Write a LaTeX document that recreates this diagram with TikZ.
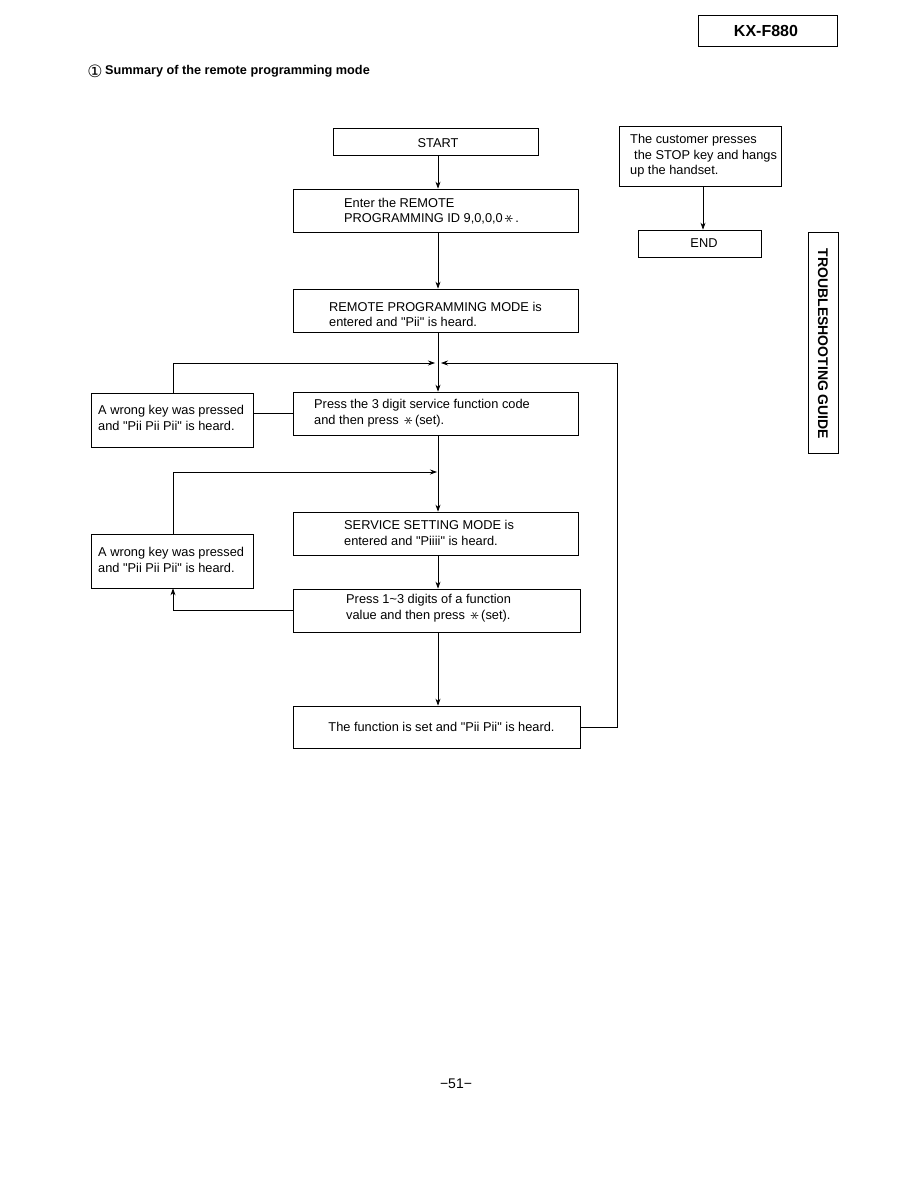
\documentclass[tikz,border=0pt]{standalone}
\usepackage{fontspec}
\setmainfont{Liberation Sans}
\newfontfamily\symfont{DejaVu Sans}
\usetikzlibrary{arrows.meta,calc}
\newcommand{\kstar}{\,\raisebox{-0.15ex}{\rotatebox[origin=c]{90}{\scalebox{1.5}{$\ast$}}}\,}
\newcommand{\qd}{\textquotedbl}
\begin{document}
\begin{tikzpicture}[x=1pt,y=-1pt,
  box/.style={draw, line width=0.7pt, rectangle, inner sep=0pt},
  txt/.style={font=\fontsize{12.8}{15.5}\selectfont, align=left, inner sep=0pt},
  arr/.style={-{Stealth[length=7pt,width=5pt]}, line width=0.7pt},
  ln/.style={line width=0.7pt}]
\useasboundingbox (0,0) rectangle (918,1188);

% header
\node[box, minimum width=139, minimum height=31] (kx) at (767.5,30.5) {};
\node[font=\fontsize{16}{18}\selectfont\bfseries, inner sep=0pt] (kxt) at (766,31) {KX-F880};
\node[font=\fontsize{17}{19}\selectfont\symfont, inner sep=0pt] (circ) at (95,71) {①};
\node[font=\fontsize{12.7}{15}\selectfont\bfseries, inner sep=0pt, anchor=west] (title) at (105,71) {Summary of the remote programming mode};

% boxes
\node[box, minimum width=205, minimum height=27] (start) at (435.5,141.5) {};
\node[box, minimum width=285, minimum height=43] (enter) at (435.5,210.5) {};
\node[box, minimum width=285, minimum height=43] (remote) at (435.5,310.5) {};
\node[box, minimum width=162, minimum height=54] (wrong1) at (172,420) {};
\node[box, minimum width=285, minimum height=43] (press) at (435.5,413.5) {};
\node[box, minimum width=285, minimum height=43] (service) at (435.5,533.5) {};
\node[box, minimum width=162, minimum height=54] (wrong2) at (172,561) {};
\node[box, minimum width=287, minimum height=43] (press2) at (436.5,610.5) {};
\node[box, minimum width=287, minimum height=42] (func) at (436.5,727) {};
\node[box, minimum width=162, minimum height=60] (cust) at (700,156) {};
\node[box, minimum width=123, minimum height=27] (end) at (699.5,243.5) {};
\node[box, minimum width=30, minimum height=221] (tsg) at (823,342.5) {};

% texts
\node[txt] (startt) at (438,143) {START};
\node[txt, anchor=west] (entert) at (344,211) {Enter the REMOTE\\PROGRAMMING ID 9,0,0,0\kstar.};
\node[txt, anchor=west] (remotet) at (329,314.5) {REMOTE PROGRAMMING MODE is\\entered and \qd Pii\qd{} is heard.};
\node[txt, anchor=west] (wrong1t) at (98,418) {A wrong key was pressed\\and \qd Pii Pii Pii\qd{} is heard.};
\node[txt, anchor=west] (presst) at (314,413) {Press the 3 digit service function code\\and then press \kstar (set).};
\node[txt, anchor=west] (servicet) at (344,533) {SERVICE SETTING MODE is\\entered and \qd Piiii\qd{} is heard.};
\node[txt, anchor=west] (wrong2t) at (98,560) {A wrong key was pressed\\and \qd Pii Pii Pii\qd{} is heard.};
\node[txt, anchor=west] (press2t) at (346,608) {Press 1\textasciitilde3 digits of a function\\value and then press \kstar (set).};
\node[txt] (funct) at (441.5,727) {The function is set and \qd Pii Pii\qd{} is heard.};
\node[txt, anchor=west] (custt) at (630,156) {The customer presses\\\hspace{4pt}the STOP key and hangs\\up the handset.};
\node[txt] (endt) at (704,243.5) {END};
\node[font=\fontsize{14}{16}\selectfont\bfseries, inner sep=0pt, rotate=-90] (tsgt) at (823,344) {TROUBLESHOOTING GUIDE};
\node[font=\fontsize{14}{16}\selectfont, inner sep=0pt] (page) at (456,1084) {−51−};

% helper coordinates
\coordinate (spine) at (438,0);
\coordinate (lx) at (173,0);
\coordinate (rx) at (617,0);
\coordinate (cx) at (703,0);
\coordinate (j1) at (438,363);
\coordinate (j2) at (438,472);

% connectors
\draw[arr] (spine |- start.south) -- (spine |- enter.north);
\draw[arr] (spine |- enter.south) -- (spine |- remote.north);
\draw[arr] (spine |- remote.south) -- (spine |- press.north);
\draw[arr] (lx |- wrong1.north) -- (lx |- j1) -- ($(j1)+(-3,0)$);
\draw[arr] (func.east) -| (rx |- j1) -- ($(j1)+(3,0)$);
\draw[ln] (wrong1.east |- press.west) -- (press.west);
\draw[arr] (spine |- press.south) -- (spine |- service.north);
\draw[arr] (lx |- wrong2.north) -- (lx |- j2) -- ($(j2)+(-1,0)$);
\draw[arr] (spine |- service.south) -- (spine |- press2.north);
\draw[arr] (press2.west) -| (lx |- wrong2.south);
\draw[arr] (spine |- press2.south) -- (spine |- func.north);
\draw[arr] (cx |- cust.south) -- (cx |- end.north);
\end{tikzpicture}
\end{document}
